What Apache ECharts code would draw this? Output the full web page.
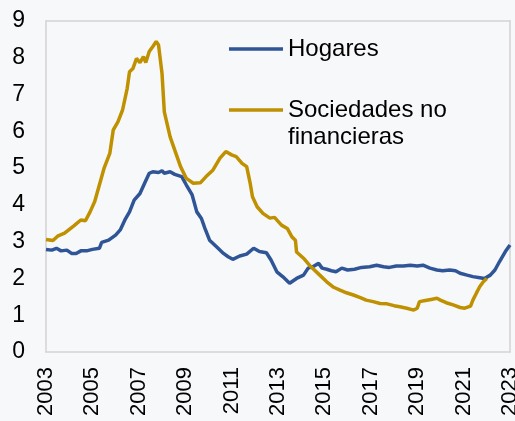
<!DOCTYPE html>
<html>
<head>
<meta charset="utf-8">
<script src="https://cdn.jsdelivr.net/npm/echarts@6/dist/echarts.min.js"></script>
<style>
  html, body { margin: 0; padding: 0; background: #f7f8fa; }
  #chart { width: 515px; height: 421px; }
</style>
</head>
<body>
<div id="chart"></div>
<script>
// fechas en años decimales y tasas (%)
const hogaresDates = [2003.0, 2003.25, 2003.45, 2003.65, 2003.9, 2004.1, 2004.3, 2004.5, 2004.75, 2005.0,
  2005.3, 2005.4, 2005.7, 2006.0, 2006.2, 2006.4, 2006.6, 2006.8, 2007.05, 2007.25,
  2007.45, 2007.6, 2007.85, 2008.0, 2008.1, 2008.35, 2008.4, 2008.55, 2008.85, 2009.05,
  2009.3, 2009.5, 2009.7, 2009.85, 2010.05, 2010.35, 2010.65, 2010.85, 2011.05, 2011.35,
  2011.65, 2011.95, 2012.2, 2012.5, 2012.7, 2012.95, 2013.2, 2013.5, 2013.8, 2014.1,
  2014.3, 2014.5, 2014.75, 2014.9, 2015.1, 2015.3, 2015.5, 2015.75, 2016.0, 2016.3,
  2016.6, 2016.95, 2017.25, 2017.55, 2017.8, 2018.1, 2018.4, 2018.7, 2019.0, 2019.25,
  2019.55, 2019.85, 2020.1, 2020.4, 2020.65, 2020.85, 2021.15, 2021.4, 2021.7, 2021.9,
  2022.15, 2022.35, 2022.55, 2022.8, 2023.0];
const hogaresValues = [2.79, 2.77, 2.82, 2.75, 2.77, 2.68, 2.68, 2.75, 2.75, 2.79,
  2.82, 2.98, 3.04, 3.18, 3.32, 3.59, 3.81, 4.13, 4.31, 4.59,
  4.86, 4.90, 4.88, 4.93, 4.86, 4.90, 4.95, 4.83, 4.77, 4.54,
  4.27, 3.81, 3.63, 3.36, 3.04, 2.86, 2.68, 2.59, 2.52, 2.61,
  2.66, 2.82, 2.73, 2.70, 2.50, 2.18, 2.05, 1.87, 2.00, 2.09,
  2.28, 2.32, 2.41, 2.28, 2.25, 2.21, 2.18, 2.28, 2.23, 2.25,
  2.30, 2.32, 2.36, 2.32, 2.30, 2.34, 2.34, 2.36, 2.34, 2.36,
  2.28, 2.23, 2.21, 2.23, 2.21, 2.14, 2.09, 2.05, 2.02, 2.00,
  2.09, 2.23, 2.46, 2.73, 2.91];

const sociedadesDates = [2003.0, 2003.3, 2003.5, 2003.8, 2004.2, 2004.5, 2004.7, 2004.9, 2005.1, 2005.3,
  2005.5, 2005.75, 2005.9, 2006.1, 2006.3, 2006.5, 2006.6, 2006.75, 2006.9, 2007.05,
  2007.2, 2007.3, 2007.45, 2007.6, 2007.75, 2007.85, 2008.0, 2008.1, 2008.35, 2008.55,
  2008.8, 2009.05, 2009.35, 2009.65, 2009.9, 2010.2, 2010.5, 2010.75, 2011.0, 2011.2,
  2011.45, 2011.65, 2011.8, 2011.9, 2012.1, 2012.35, 2012.65, 2012.85, 2013.15, 2013.4,
  2013.6, 2013.75, 2013.8, 2014.1, 2014.4, 2014.8, 2015.1, 2015.4, 2015.65, 2015.95,
  2016.25, 2016.55, 2016.8, 2017.1, 2017.4, 2017.7, 2018.0, 2018.25, 2018.55, 2018.85,
  2019.0, 2019.1, 2019.35, 2019.6, 2019.85, 2020.0, 2020.25, 2020.55, 2020.85, 2021.05,
  2021.3, 2021.4, 2021.55, 2021.7, 2021.85, 2022.0];
const sociedadesValues = [3.06, 3.03, 3.15, 3.23, 3.43, 3.59, 3.57, 3.81, 4.09, 4.54,
  4.99, 5.40, 6.04, 6.26, 6.58, 7.17, 7.62, 7.71, 7.98, 7.87,
  8.03, 7.87, 8.17, 8.30, 8.44, 8.35, 7.58, 6.53, 5.85, 5.49,
  5.04, 4.72, 4.59, 4.60, 4.77, 4.95, 5.27, 5.45, 5.36, 5.31,
  5.13, 5.04, 4.59, 4.22, 3.95, 3.77, 3.64, 3.66, 3.45, 3.36,
  3.13, 3.04, 2.72, 2.55, 2.33, 2.09, 1.91, 1.76, 1.69, 1.61,
  1.55, 1.48, 1.41, 1.37, 1.32, 1.31, 1.26, 1.23, 1.19, 1.14,
  1.19, 1.37, 1.40, 1.43, 1.46, 1.41, 1.34, 1.28, 1.21, 1.19,
  1.25, 1.41, 1.60, 1.78, 1.91, 2.00];

const colors = ['#2f5597', '#bf9000'];
const fontFamily = '"Liberation Sans", Arial, sans-serif';
const borderLine = { show: true, onZero: false, lineStyle: { color: '#d3d3d3', width: 1.5 } };

const myChart = echarts.init(document.getElementById('chart'));

const option = {
  backgroundColor: '#f7f8fa',
  color: colors,
  animation: false,
  textStyle: { fontFamily: fontFamily, color: '#000' },
  grid: {
    left: 46, right: 5, top: 21, bottom: 69,
    outerBoundsMode: 'none',
    containLabel: false
  },
  // dos leyendas para colocar cada entrada como en el original
  legend: [
    {
      data: ['Hogares'],
      left: 229, top: 37, padding: 0,
      icon: 'rect', itemWidth: 54, itemHeight: 3.5,
      textStyle: { fontSize: 24, color: '#000', fontFamily: fontFamily }
    },
    {
      data: ['Sociedades no financieras'],
      left: 229, top: 69.5, padding: 0,
      icon: 'rect', itemWidth: 54, itemHeight: 3.5,
      // línea vacía delante para que el icono quede a la altura de la primera línea
      formatter: () => '\nSociedades no\nfinancieras',
      textStyle: { fontSize: 24, lineHeight: 27, color: '#000', fontFamily: fontFamily }
    }
  ],
  xAxis: [
    {
      type: 'value',
      min: 2003, max: 2023, interval: 2,
      splitLine: { show: false },
      axisTick: { show: false },
      axisLine: borderLine,
      axisLabel: {
        rotate: 90,
        margin: 15,
        fontSize: 22,
        color: '#000',
        formatter: v => String(v)
      }
    },
    {
      // borde superior del área de gráfico
      type: 'value', position: 'top',
      min: 2003, max: 2023,
      splitLine: { show: false }, axisTick: { show: false }, axisLabel: { show: false },
      axisLine: borderLine
    }
  ],
  yAxis: [
    {
      type: 'value',
      min: 0, max: 9, interval: 1,
      splitLine: { show: false },
      axisTick: { show: false },
      axisLine: borderLine,
      axisLabel: { fontSize: 23, color: '#000', margin: 21 }
    },
    {
      // borde derecho
      type: 'value', position: 'right',
      min: 0, max: 9,
      splitLine: { show: false }, axisTick: { show: false }, axisLabel: { show: false },
      axisLine: borderLine
    }
  ],
  series: [
    {
      name: 'Hogares',
      type: 'line',
      showSymbol: false,
      symbol: 'none',
      lineStyle: { width: 3.5 },
      data: hogaresDates.map((d, i) => [d, hogaresValues[i]])
    },
    {
      name: 'Sociedades no financieras',
      type: 'line',
      showSymbol: false,
      symbol: 'none',
      lineStyle: { width: 3.5 },
      data: sociedadesDates.map((d, i) => [d, sociedadesValues[i]])
    }
  ]
};

myChart.setOption(option);
</script>
</body>
</html>
